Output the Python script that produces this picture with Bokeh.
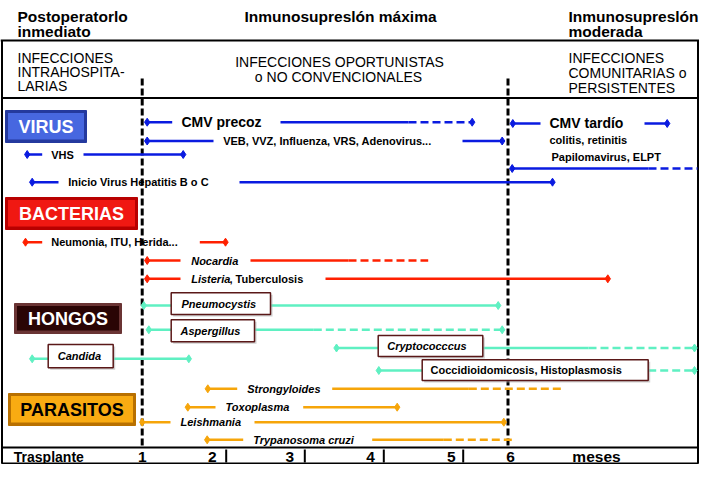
from bokeh.plotting import figure
from bokeh.models import Range1d, ColumnDataSource
from bokeh.core.properties import value
from bokeh.embed import file_html
from bokeh.resources import INLINE

FONT = value("Liberation Sans")

# ---------------- data (diagram coordinates = reference pixels) ----------------
# header: phase titles
phase_text = ["Postoperatorlo", "inmediato", "Inmunosupreslón máxima", "Inmunosupreslón", "moderada"]
phase_x = [17, 17, 340, 568, 568]
phase_y = [15.5, 30.5, 15.5, 15.5, 30.5]
phase_align = ["left", "left", "center", "left", "left"]

# header: infection type descriptions
type_text = ["INFECCIONES", "INTRAHOSPITA-", "LARIAS",
             "INFECCIONES  OPORTUNISTAS", "o NO CONVENCIONALES",
             "INFECCIONES", "COMUNITARIAS o", "PERSISTENTES"]
type_x = [17, 17, 17, 341, 338, 568, 568, 568]
type_y = [57, 71, 85, 61, 76, 57, 72, 87]
type_align = ["left", "left", "left", "center", "center", "left", "left", "left"]

# category badges
cat_names = ["VIRUS", "BACTERIAS", "HONGOS", "PARASITOS"]
cat_left = [5, 5, 14, 8]
cat_right = [86, 137, 121, 135]
cat_top = [110, 197, 303, 393]
cat_bottom = [142, 229, 333, 425]
cat_outer = ["#24399e", "#b80000", "#6a3434", "#b87000"]
cat_inner = ["#4767e0", "#f01812", "#2a0505", "#f9ab12"]
cat_textcolor = ["white", "white", "white", "black"]

# phase boundaries (months 1 and 6)
boundary_x = [141.7, 507.5]

# timeline segments per group: x0, x1, y, dashed
virus_x0 = [146.7, 280, 408, 146.7, 462, 26.7, 83, 31.7, 239, 512.3, 644, 511.7, 648]
virus_x1 = [171.7, 408, 471.7, 213, 501.7, 41.7, 182.7, 58, 552, 540, 666.7, 648, 697]
virus_y = [121.7, 121.7, 121.7, 140.5, 140.5, 154, 154, 181.7, 181.7, 123, 123, 168, 168]
virus_dash = [0, 0, 1, 0, 0, 0, 0, 0, 0, 0, 0, 0, 1]
virus_dx = [146.7, 471.7, 146.7, 501.7, 26.7, 182.7, 31.7, 552, 512.3, 666.7, 511.7]
virus_dy = [121.7, 121.7, 140.5, 140.5, 154, 154, 181.7, 181.7, 123, 123, 168]

bact_x0 = [25, 199.3, 146.7, 250, 348, 146.7, 325]
bact_x1 = [41.7, 225, 180, 348, 427.7, 180, 607.3]
bact_y = [241.7, 241.7, 260, 260, 260, 278.3, 278.3]
bact_dash = [0, 0, 0, 0, 1, 0, 0]
bact_dx = [25, 225, 146.7, 146.7, 607.3]
bact_dy = [241.7, 241.7, 260, 278.3, 278.3]

fungi_x0 = [143.3, 270, 148.3, 254, 313.3, 31.7, 112.7, 336, 482.3, 588, 378.3, 647.7]
fungi_x1 = [170.7, 497.7, 170.7, 313.3, 501.7, 47.7, 188.3, 377.7, 588, 694, 421.7, 694]
fungi_y = [305, 305, 329.3, 329.3, 329.3, 358.3, 358.3, 347.5, 347.5, 347.5, 370, 370]
fungi_dash = [0, 0, 0, 0, 1, 0, 0, 0, 0, 1, 0, 1]
fungi_dx = [143.3, 497.7, 148.3, 501.7, 31.7, 188.3, 336, 694, 378.3, 694]
fungi_dy = [305, 305, 329.3, 329.3, 358.3, 358.3, 347.5, 347.5, 370, 370]

para_x0 = [207.3, 331.7, 468.3, 187.3, 302.7, 141.7, 254, 206.7, 371.7, 443.3]
para_x1 = [236.7, 468.3, 563.3, 215, 396.7, 170, 503.3, 242.7, 443.3, 511.7]
para_y = [388.3, 388.3, 388.3, 406.7, 406.7, 421.7, 421.7, 439.3, 439.3, 439.3]
para_dash = [0, 0, 1, 0, 0, 0, 0, 0, 0, 1]
para_dx = [207.3, 187.3, 396.7, 141.7, 503.3, 206.7]
para_dy = [388.3, 406.7, 406.7, 421.7, 421.7, 439.3]

# labels
virus_big = ["CMV precoz", "CMV tardío"]
virus_big_x = [181, 549]
virus_big_y = [121.7, 122.5]
virus_small = ["VEB, VVZ, Influenza, VRS, Adenovirus...", "VHS", "Inicio Virus Hepatitis B o C",
               "colitis, retinitis", "Papilomavirus, ELPT"]
virus_small_x = [222.7, 50.7, 67.7, 549, 551]
virus_small_y = [140.5, 154, 181.7, 139.3, 156]

bact_plain = ["Neumonia, ITU, Herida...", ", Tuberculosis"]
bact_plain_x = [50.7, 229]
bact_plain_y = [241.7, 278.3]
bact_ital = ["Nocardia", "Listeria"]
bact_ital_x = [190.7, 190.7]
bact_ital_y = [260, 278.3]

fungi_names = ["Pneumocystis", "Aspergillus", "Candida", "Cryptococccus", "Coccidioidomicosis, Histoplasmosis"]
fungi_italic = [1, 1, 1, 1, 0]
fungi_box_l = [170.7, 170.7, 47.7, 377.7, 421.7]
fungi_box_r = [270, 254, 112.7, 482.3, 647.7]
fungi_box_t = [292.3, 319.3, 344, 335, 359.3]
fungi_box_b = [314, 341.3, 367.3, 356, 380]
fungi_text_x = [181, 180, 57.3, 386.7, 430]

para_names = ["Strongyloides", "Toxoplasma", "Leishmania", "Trypanosoma cruzi"]
para_text_x = [246.7, 225, 180, 252.7]
para_text_y = [388.3, 406.7, 421.7, 439.3]

# bottom time axis
month_labels = ["1", "2", "3", "4", "5", "6"]
month_x = [141.7, 211.7, 289.3, 370, 450.7, 510]
month_sep_x = [225.7, 304.3, 383.3, 462.7]
axis_row_y = 456

# ---------------- figure ----------------
W, H = 699, 464
p = figure(width=W, height=H, x_range=Range1d(0, W), y_range=Range1d(H, 0),
           output_backend="svg", toolbar_location=None, min_border=0)
p.axis.visible = False
p.grid.visible = False
p.outline_line_color = None
p.background_fill_color = "white"

# table frame
p.segment(x0=[0, 1, 1, 1], x1=[W, W - 1, W - 1, W - 1], y0=[40, 97.5, 447, 463], y1=[40, 97.5, 447, 463],
          line_color="black", line_width=2)
p.segment(x0=[1.5, W - 1.5], x1=[1.5, W - 1.5], y0=[40, 40], y1=[463, 463], line_color="black", line_width=2)
p.segment(x0=month_sep_x, x1=month_sep_x, y0=[449] * 4, y1=[462] * 4, line_color="black", line_width=2)

# phase boundaries
p.segment(x0=boundary_x, x1=boundary_x, y0=[78, 78], y1=[445, 445], line_color="black",
          line_width=3, line_dash="7 3")


def txt(xs, ys, texts, size, style="bold", align="left", baseline="middle", color="black"):
    src = ColumnDataSource(dict(x=xs, y=ys, t=texts))
    p.text(x="x", y="y", text="t", source=src, text_font=FONT, text_font_size=size,
           text_font_style=style, text_align=align, text_baseline=baseline, text_color=color)


# header texts
for al in ["left", "center"]:
    idx = [i for i, a in enumerate(phase_align) if a == al]
    txt([phase_x[i] for i in idx], [phase_y[i] for i in idx], [phase_text[i] for i in idx],
        "15.5px", "bold", al, "alphabetic")
    idx = [i for i, a in enumerate(type_align) if a == al]
    txt([type_x[i] for i in idx], [type_y[i] for i in idx], [type_text[i] for i in idx],
        "14px", "normal", al, "alphabetic")

# category badges
p.quad(left=cat_left, right=cat_right, top=cat_top, bottom=cat_bottom,
       fill_color=cat_outer, line_color=cat_outer, line_width=1)
p.quad(left=[l + 2.5 for l in cat_left], right=[r - 2.5 for r in cat_right],
       top=[t + 2.5 for t in cat_top], bottom=[b - 3 for b in cat_bottom],
       fill_color=cat_inner, line_color=None)
for i, name in enumerate(cat_names):
    txt([(cat_left[i] + cat_right[i]) / 2], [(cat_top[i] + cat_bottom[i]) / 2 + 0.5], [name],
        "18px", "bold", "center", "middle", cat_textcolor[i])


def timeline(x0, x1, y, dash, dx, dy, color):
    for d, ld in [(0, "solid"), (1, "8 4")]:
        idx = [i for i, v in enumerate(dash) if v == d]
        if not idx:
            continue
        src = ColumnDataSource(dict(x0=[x0[i] for i in idx], x1=[x1[i] for i in idx],
                                    y=[y[i] for i in idx]))
        p.segment(x0="x0", x1="x1", y0="y", y1="y", source=src, line_color=color,
                  line_width=2.5, line_dash=ld)
    p.scatter(x=dx, y=dy, marker="diamond", size=8, color=color)


BLUE = "#0a1be0"
RED = "#ff2000"
AQUA = "#5ff0c2"
ORANGE = "#f6a50a"

timeline(virus_x0, virus_x1, virus_y, virus_dash, virus_dx, virus_dy, BLUE)
timeline(bact_x0, bact_x1, bact_y, bact_dash, bact_dx, bact_dy, RED)
timeline(fungi_x0, fungi_x1, fungi_y, fungi_dash, fungi_dx, fungi_dy, AQUA)
timeline(para_x0, para_x1, para_y, para_dash, para_dx, para_dy, ORANGE)

# labels
txt(virus_big_x, virus_big_y, virus_big, "14px", "bold")
txt(virus_small_x, virus_small_y, virus_small, "11px", "bold")
txt(bact_plain_x, bact_plain_y, bact_plain, "11px", "bold")
txt(bact_ital_x, bact_ital_y, bact_ital, "11px", "bold italic")

# fungi boxes with shadow
p.quad(left=[l + 2 for l in fungi_box_l], right=[r + 2 for r in fungi_box_r],
       top=[t + 2 for t in fungi_box_t], bottom=[b + 2 for b in fungi_box_b],
       fill_color="#b0b0b0", line_color=None, fill_alpha=0.6)
p.quad(left=fungi_box_l, right=fungi_box_r, top=fungi_box_t, bottom=fungi_box_b,
       fill_color="white", line_color="#5a1818", line_width=1.5)
for it in [1, 0]:
    idx = [i for i, v in enumerate(fungi_italic) if v == it]
    txt([fungi_text_x[i] for i in idx],
        [(fungi_box_t[i] + fungi_box_b[i]) / 2 for i in idx],
        [fungi_names[i] for i in idx], "11px", "bold italic" if it else "bold")

txt(para_text_x, para_text_y, para_names, "11px", "bold italic")

# bottom axis
txt([13.3], [axis_row_y], ["Trasplante"], "14px", "bold")
txt(month_x, [axis_row_y] * len(month_x), month_labels, "15.5px", "bold", "center")
txt([596], [axis_row_y], ["meses"], "15.5px", "bold", "center")

open("out.html", "w").write(file_html(p, INLINE))
